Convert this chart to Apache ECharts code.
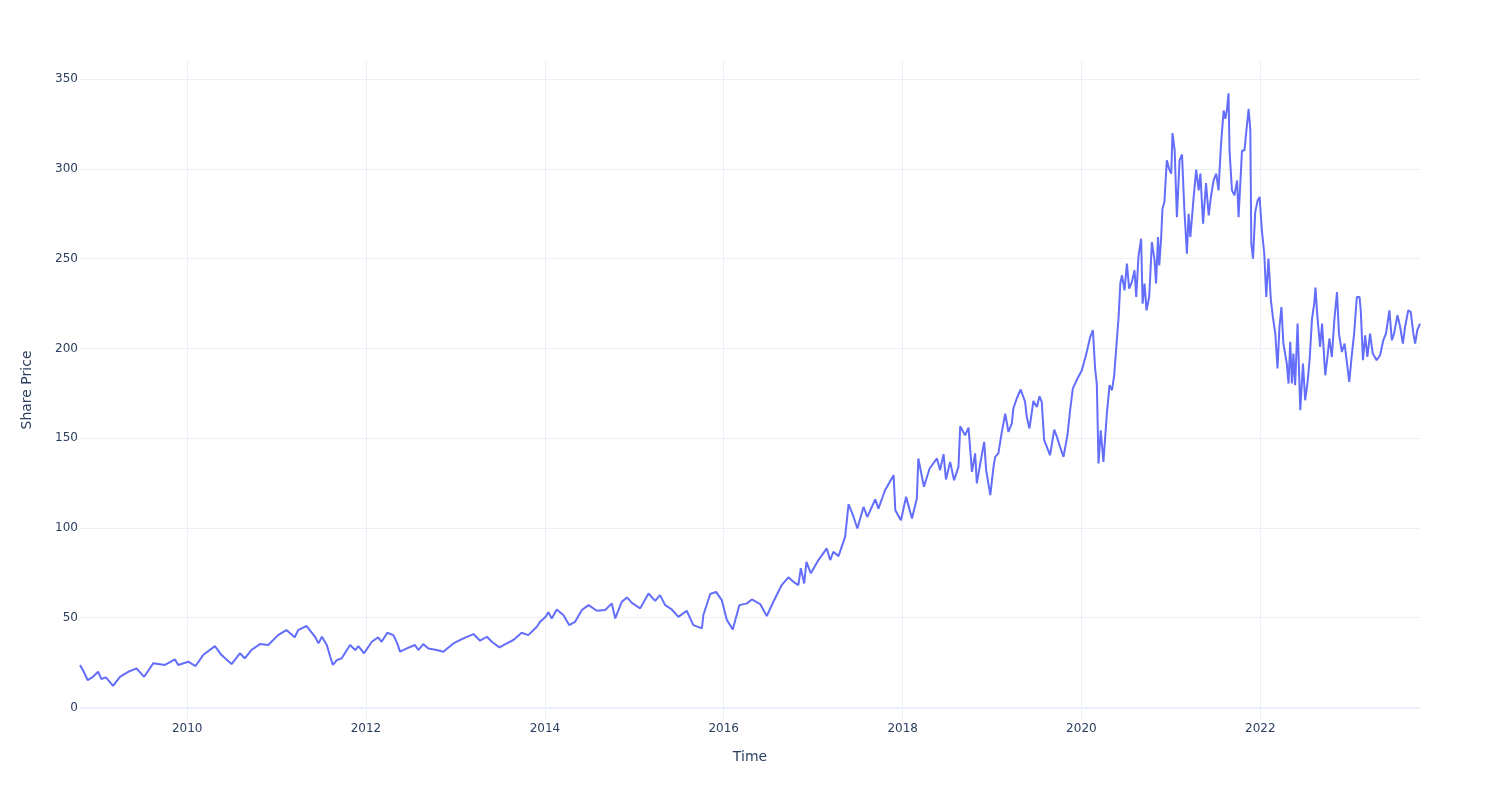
<!DOCTYPE html>
<html>
<head>
<meta charset="utf-8">
<script src="https://cdn.jsdelivr.net/npm/echarts@6/dist/echarts.min.js"></script>
<style>
html,body{margin:0;padding:0;background:#fff;}
#chart{width:1500px;height:800px;}
</style>
</head>
<body>
<div id="chart"></div>
<script>
const dates = [
'2008-10-20','2008-11-01','2008-11-20','2008-12-12','2009-01-02','2009-01-15','2009-02-03','2009-03-04','2009-04-01','2009-05-05',
'2009-06-08','2009-07-09','2009-08-15','2009-10-02','2009-11-12','2009-11-25','2010-01-05','2010-02-04','2010-03-07','2010-04-24',
'2010-05-21','2010-07-01','2010-08-04','2010-08-24','2010-09-20','2010-10-25','2010-11-28','2011-01-07','2011-02-10','2011-03-16',
'2011-03-30','2011-05-03','2011-06-07','2011-06-21','2011-07-05','2011-07-25','2011-08-08','2011-08-19','2011-09-04','2011-09-24',
'2011-10-08','2011-10-28','2011-11-18','2011-12-01','2011-12-24','2012-01-25','2012-02-20','2012-03-05','2012-03-28','2012-04-22',
'2012-05-08','2012-05-19','2012-06-16','2012-07-19','2012-08-02','2012-08-22','2012-09-12','2012-10-16','2012-11-12','2012-12-23',
'2013-02-02','2013-03-15','2013-04-11','2013-05-09','2013-05-29','2013-06-29','2013-07-29','2013-08-25','2013-09-28','2013-10-25',
'2013-11-29','2013-12-12','2014-01-02','2014-01-15','2014-01-29','2014-02-18','2014-03-17','2014-04-10','2014-05-04','2014-06-01',
'2014-06-28','2014-08-01','2014-09-04','2014-10-01','2014-10-15','2014-11-11','2014-12-02','2014-12-22','2015-01-25','2015-02-28',
'2015-03-27','2015-04-16','2015-05-07','2015-06-03','2015-06-30','2015-08-03','2015-08-30','2015-10-04','2015-10-10','2015-11-07',
'2015-12-01','2015-12-24','2016-01-14','2016-02-07','2016-03-05','2016-04-05','2016-04-25','2016-05-29','2016-06-25','2016-07-22',
'2016-08-25','2016-09-21','2016-10-12','2016-11-01','2016-11-11','2016-11-25','2016-12-04','2016-12-22','2017-01-22','2017-02-25',
'2017-03-11','2017-03-24','2017-04-14','2017-05-11','2017-05-25','2017-06-12','2017-06-30','2017-07-25','2017-08-10','2017-09-11',
'2017-09-24','2017-10-21','2017-11-25','2017-12-02','2017-12-25','2018-01-15','2018-02-08','2018-02-28','2018-03-06','2018-03-29',
'2018-04-21','2018-05-21','2018-06-03','2018-06-17','2018-06-27','2018-07-14','2018-07-30','2018-08-17','2018-08-24','2018-09-13',
'2018-09-27','2018-10-11','2018-10-24','2018-10-31','2018-11-14','2018-11-30','2018-12-08','2018-12-25','2019-01-07','2019-01-14',
'2019-01-27','2019-02-10','2019-02-19','2019-02-24','2019-03-09','2019-03-23','2019-03-29','2019-04-12','2019-04-28','2019-05-16',
'2019-05-23','2019-06-03','2019-06-19','2019-07-03','2019-07-14','2019-07-23','2019-08-02','2019-08-13','2019-08-26','2019-09-12',
'2019-09-23','2019-10-06','2019-10-20','2019-11-05','2019-11-16','2019-11-27','2019-12-16','2020-01-03','2020-01-23','2020-02-06',
'2020-02-17','2020-02-26','2020-03-04','2020-03-11','2020-03-20','2020-03-31','2020-04-14','2020-04-25','2020-05-05','2020-05-14',
'2020-05-25','2020-06-01','2020-06-08','2020-06-15','2020-06-25','2020-07-05','2020-07-14','2020-07-25','2020-08-05','2020-08-12',
'2020-08-21','2020-09-01','2020-09-07','2020-09-15','2020-09-23','2020-10-04','2020-10-15','2020-10-26','2020-11-01','2020-11-09',
'2020-11-14','2020-11-22','2020-11-27','2020-12-05','2020-12-15','2020-12-24','2021-01-02','2021-01-07','2021-01-16','2021-01-25',
'2021-02-05','2021-02-15','2021-02-24','2021-03-07','2021-03-14','2021-03-21','2021-04-03','2021-04-14','2021-04-24','2021-05-01',
'2021-05-12','2021-05-24','2021-06-04','2021-06-13','2021-06-24','2021-07-05','2021-07-14','2021-07-24','2021-08-04','2021-08-11',
'2021-08-18','2021-08-24','2021-08-28','2021-09-07','2021-09-17','2021-09-28','2021-10-04','2021-10-18','2021-10-28','2021-11-05',
'2021-11-14','2021-11-21','2021-11-25','2021-12-02','2021-12-11','2021-12-21','2021-12-29','2022-01-07','2022-01-17','2022-01-25',
'2022-02-03','2022-02-13','2022-02-21','2022-03-03','2022-03-12','2022-03-20','2022-03-28','2022-04-05','2022-04-19','2022-04-26',
'2022-05-03','2022-05-10','2022-05-16','2022-05-23','2022-06-02','2022-06-13','2022-06-24','2022-07-03','2022-07-13','2022-07-21',
'2022-07-31','2022-08-09','2022-08-14','2022-08-22','2022-09-02','2022-09-10','2022-09-23','2022-10-02','2022-10-10','2022-10-20',
'2022-10-30','2022-11-10','2022-11-18','2022-11-30','2022-12-11','2022-12-21','2022-12-30','2023-01-10','2023-01-19','2023-01-30',
'2023-02-10','2023-02-15','2023-02-24','2023-03-05','2023-03-14','2023-03-25','2023-04-05','2023-04-21','2023-05-05','2023-05-18',
'2023-05-29','2023-06-12','2023-06-22','2023-07-01','2023-07-15','2023-07-26','2023-08-06','2023-08-15','2023-08-28','2023-09-07',
'2023-09-18','2023-09-25','2023-10-04','2023-10-15'
];
const prices = [
23.6,20.9,15.3,17.1,19.9,15.9,16.8,12.0,17.1,19.9,
21.8,17.1,24.6,23.7,26.8,23.7,25.5,23.1,29.2,34.2,
29.2,24.2,30.2,27.4,32.0,35.3,34.8,40.3,43.1,39.1,
43.1,45.4,39.4,35.7,39.4,34.8,28.3,23.7,26.4,27.4,
30.5,34.8,32.0,34.2,30.2,36.6,39.1,36.6,41.6,40.3,
35.7,31.1,32.9,34.8,32.0,35.3,32.9,32.0,31.1,35.7,
38.5,40.9,37.2,39.4,36.6,33.5,35.7,37.6,41.6,40.3,
45.0,47.7,50.2,53.0,49.6,54.6,51.5,45.9,47.7,54.3,
57.0,53.9,54.3,58.0,49.6,58.9,61.3,58.3,55.2,63.5,
59.4,62.6,57.0,54.6,50.5,53.9,45.9,44.1,51.5,63.2,
64.4,59.8,48.7,43.5,57.0,58.0,60.2,57.6,50.9,58.9,
68.2,72.5,70.0,68.2,77.5,69.1,81.1,74.7,82.1,88.6,
82.1,86.7,84.3,95.0,113.2,107.1,99.7,111.7,106.2,115.9,
110.8,121.0,129.4,109.9,104.3,117.3,105.3,116.4,138.7,122.9,
133.1,138.7,132.2,141.1,127.0,136.8,126.6,134.0,156.6,151.6,
155.9,131.2,141.5,124.8,135.9,147.9,132.2,118.3,134.0,139.6,
141.5,153.5,160.0,163.7,153.5,158.2,166.5,172.1,177.1,170.2,
161.8,155.4,170.7,167.4,173.3,170.2,148.9,145.1,140.5,154.8,
150.7,145.1,139.6,151.6,165.6,177.6,183.2,187.8,198.0,206.3,
210.1,188.8,180.4,135.9,154.4,136.8,163.7,179.5,176.7,185.0,
205.0,217.5,236.1,240.7,232.3,247.2,233.3,236.9,243.5,228.6,
250.9,261.1,224.9,236.1,221.2,228.6,259.2,249.0,236.1,262.0,
246.2,262.0,277.8,281.5,304.7,300.0,297.3,319.9,310.2,273.1,
304.7,308.0,278.7,252.7,275.0,262.0,283.4,299.5,288.0,297.3,
269.4,292.0,274.1,284.3,293.5,297.3,288.0,313.0,332.5,327.9,
333.4,342.1,310.2,288.0,285.2,293.5,273.1,310.2,310.2,321.4,
333.4,321.4,258.3,250.0,275.9,282.4,284.3,266.0,252.7,228.6,
250.0,226.8,217.5,208.2,188.8,211.9,223.0,202.7,191.5,180.4,
203.6,180.4,197.1,179.5,213.8,165.6,191.5,171.1,181.3,193.4,
216.6,224.9,233.8,217.5,200.8,213.8,185.0,195.2,205.5,195.2,
215.6,231.4,208.2,198.0,202.7,191.5,181.3,197.1,208.2,228.6,
228.6,221.2,193.4,207.3,195.2,208.2,197.1,193.4,196.2,204.5,
208.2,221.2,204.5,208.2,218.5,211.9,202.7,211.9,221.2,220.3,
208.2,202.7,210.1,213.8
];
const xTitle = 'Time';
const yTitle = 'Share Price';
const yRange = [-6.96, 360.6];

const chart = echarts.init(document.getElementById('chart'), null, {renderer: 'canvas'});
const fontFam = '"DejaVu Sans", verdana, arial, sans-serif';
const txt = '#2a3f5f';
const gridCol = '#EBF0F8';

chart.setOption({
  animation: false,
  backgroundColor: '#ffffff',
  grid: {left: 80, right: 80, top: 60, bottom: 80, containLabel: false, outerBoundsMode: 'none'},
  xAxis: {
    type: 'time',
    min: dates[0],
    max: dates[dates.length - 1],
    splitNumber: 7,
    name: xTitle,
    nameLocation: 'middle',
    nameGap: 30,
    nameTextStyle: {color: txt, fontSize: 14, fontFamily: fontFam},
    axisLine: {show: false},
    axisTick: {show: false},
    axisLabel: {color: txt, fontSize: 12, fontFamily: fontFam, margin: 3, formatter: '{yyyy}', showMinLabel: false, showMaxLabel: false},
    splitLine: {show: true, showMinLine: false, showMaxLine: false, lineStyle: {color: gridCol, width: 1}}
  },
  yAxis: {
    type: 'value',
    min: yRange[0],
    max: yRange[1],
    splitNumber: 7,
    name: yTitle,
    nameLocation: 'middle',
    nameGap: 46,
    nameTextStyle: {color: txt, fontSize: 14, fontFamily: fontFam},
    axisLine: {show: false},
    axisTick: {show: false},
    axisLabel: {color: txt, fontSize: 12, fontFamily: fontFam, margin: 2, showMinLabel: false, showMaxLabel: false},
    splitLine: {show: true, showMinLine: false, showMaxLine: false, lineStyle: {color: gridCol, width: 1}}
  },
  series: [{
    type: 'line',
    data: dates.map((d, i) => [d, prices[i]]),
    showSymbol: false,
    symbol: 'none',
    sampling: null,
    lineStyle: {color: '#636efa', width: 2},
    itemStyle: {color: '#636efa'},
    markLine: {
      silent: true,
      symbol: 'none',
      label: {show: false},
      lineStyle: {color: gridCol, width: 2, type: 'solid'},
      data: [{yAxis: 0}]
    }
  }]
});
</script>
</body>
</html>
